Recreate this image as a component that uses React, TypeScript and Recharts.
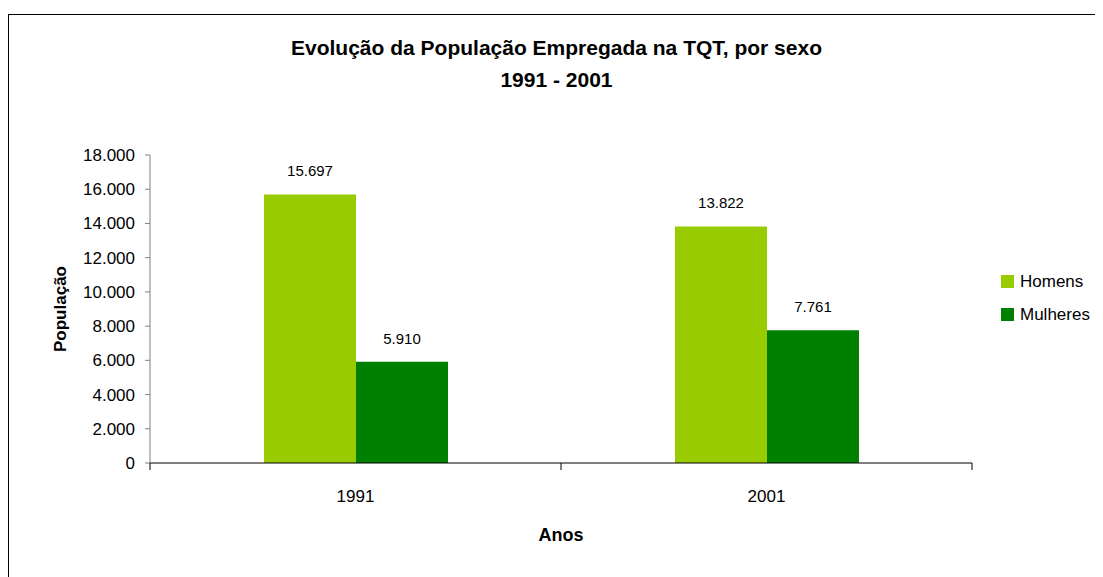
import React from 'react';
import { BarChart, Bar, XAxis, YAxis, Legend, LabelList, Label } from 'recharts';

const categories = ['1991', '2001'];
const homens = [15697, 13822];
const mulheres = [5910, 7761];
const yTicks = [0, 2000, 4000, 6000, 8000, 10000, 12000, 14000, 16000, 18000];
const seriesNames = ['Homens', 'Mulheres'];
const seriesColors = ['#99CC00', '#008000'];

const data = categories.map((c, i) => ({ year: c, Homens: homens[i], Mulheres: mulheres[i] }));

const fmt = (v: number) => String(v).replace(/\B(?=(\d{3})+(?!\d))/g, '.');

const FONT = '"Liberation Sans", Arial, sans-serif';

const CategoryTick = (props: any) => {
  const { x, y, payload, index } = props;
  const half = payload && typeof payload.offset === 'number' ? payload.offset : 0;
  const last = index === categories.length - 1;
  return (
    <g>
      <line x1={x - half} x2={x - half} y1={y} y2={y + 7} stroke="#000" strokeWidth={1} />
      {last && <line x1={x + half} x2={x + half} y1={y} y2={y + 7} stroke="#000" strokeWidth={1} />}
      <text x={x} y={y + 39} textAnchor="middle" fontSize={17} fill="#000" fontFamily={FONT}>
        {payload.value}
      </text>
    </g>
  );
};

const LegendContent = () => (
  <div style={{ fontFamily: FONT, fontSize: 17, color: '#000' }}>
    {seriesNames.map((n, i) => (
      <div key={n} style={{ display: 'flex', alignItems: 'center', height: 33 }}>
        <span style={{ width: 13, height: 13, background: seriesColors[i], display: 'inline-block', marginRight: 6 }} />
        <span>{n}</span>
      </div>
    ))}
  </div>
);

export default function App() {
  return (
    <div style={{ position: 'relative', width: 1095, height: 569, fontFamily: FONT }}>
      <div
        style={{
          position: 'absolute',
          left: 0,
          top: 6,
          width: 1095,
          height: 563,
          borderTop: '1px solid #000',
          borderLeft: '1px solid #000',
          boxSizing: 'border-box',
        }}
      />
      <div
        style={{
          position: 'absolute',
          left: 0,
          width: 1097,
          top: 24,
          textAlign: 'center',
          fontWeight: 'bold',
          fontSize: 21,
          lineHeight: '32px',
          color: '#000',
        }}
      >
        <div>Evolução da População Empregada na TQT, por sexo</div>
        <div>1991 - 2001</div>
      </div>
      <div style={{ position: 'absolute', left: 0, top: 0 }}>
        <BarChart
          width={1095}
          height={569}
          data={data}
          margin={{ top: 147, right: 131, bottom: 54, left: 62 }}
          barGap={0}
        >
          <XAxis
            dataKey="year"
            height={60}
            tickLine={false}
            tickSize={0}
            tickMargin={0}
            axisLine={{ stroke: '#000' }}
            tick={<CategoryTick />}
            interval={0}
          >
            <Label
              content={(p: any) => {
                const vb = p.viewBox;
                return (
                  <text
                    x={vb.x + vb.width / 2}
                    y={vb.y + 78}
                    textAnchor="middle"
                    fontSize={18}
                    fontWeight="bold"
                    fill="#000"
                    fontFamily={FONT}
                  >
                    Anos
                  </text>
                );
              }}
            />
          </XAxis>
          <YAxis
            width={80}
            domain={[0, 18000]}
            ticks={yTicks}
            interval={0}
            tickFormatter={fmt}
            tickSize={5}
            tickMargin={10}
            axisLine={{ stroke: '#808080' }}
            tickLine={{ stroke: '#808080' }}
            tick={{ fontSize: 17, fill: '#000', fontFamily: FONT }}
          >
            <Label
              content={(p: any) => {
                const vb = p.viewBox;
                const cx = 52;
                const cy = vb.y + vb.height / 2;
                return (
                  <text
                    x={cx}
                    y={cy}
                    transform={`rotate(-90 ${cx} ${cy})`}
                    textAnchor="middle"
                    dominantBaseline="central"
                    fontSize={17}
                    fontWeight="bold"
                    fill="#000"
                    fontFamily={FONT}
                  >
                    População
                  </text>
                );
              }}
            />
          </YAxis>
          <Legend
            layout="vertical"
            align="center"
            verticalAlign="middle"
            wrapperStyle={{ left: 993, top: 257, width: 'auto' }}
            content={<LegendContent />}
          />
          <Bar dataKey="Homens" fill={seriesColors[0]} barSize={92} isAnimationActive={false}>
            <LabelList dataKey="Homens" position="top" offset={18} formatter={fmt} fontSize={15} fill="#000" fontFamily={FONT} />
          </Bar>
          <Bar dataKey="Mulheres" fill={seriesColors[1]} barSize={92} isAnimationActive={false}>
            <LabelList dataKey="Mulheres" position="top" offset={18} formatter={fmt} fontSize={15} fill="#000" fontFamily={FONT} />
          </Bar>
        </BarChart>
      </div>
    </div>
  );
}
